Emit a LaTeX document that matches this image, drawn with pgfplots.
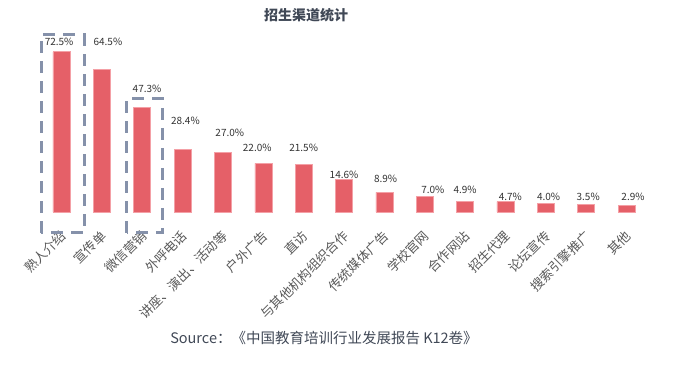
\documentclass[border=0pt]{standalone}
\usepackage{pgfplots}
\pgfplotsset{compat=1.18}
\usepackage{pgfplotstable}
\usepackage{fontspec}
\setmainfont{Noto Sans CJK SC}
\newfontfamily\cjk{Noto Sans CJK SC}
\definecolor{barred}{RGB}{229,96,104}
\definecolor{baredge}{RGB}{244,160,166}
\definecolor{boxgray}{RGB}{133,145,170}
\definecolor{titlecol}{RGB}{64,72,86}
\definecolor{labcol}{RGB}{89,89,89}
\definecolor{valcol}{RGB}{51,51,51}
\pgfplotstableread{
x y
0 72.5
1 64.5
2 47.3
3 28.4
4 27.0
5 22.0
6 21.5
7 14.6
8 8.9
9 7.0
10 4.9
11 4.7
12 4.0
13 3.5
14 2.9
}\bars
\pgfplotstableread{
x y lab
-0.06 76.9 72.5\%
1.15 76.9 64.5\%
2.12 55.7 47.3\%
3.07 41.2 28.4\%
4.17 35.7 27.0\%
4.85 29.0 22.0\%
6.0 29.0 21.5\%
7.0 16.7 14.6\%
8.03 14.9 8.9\%
9.2 10.0 7.0\%
10.0 10.0 4.9\%
11.12 6.8 4.7\%
12.07 6.8 4.0\%
13.05 6.8 3.5\%
14.16 6.8 2.9\%
}\labs
\begin{document}
\begin{tikzpicture}
\begin{axis}[
  x=40.36bp, y=2.21bp,
  xmin=-0.5, xmax=14.5, ymin=0, ymax=80,
  axis line style={draw=none},
  ytick=\empty,
  xtick=data,
  major tick length=0pt,
  xticklabels={熟人介绍,宣传单,微信营销,外呼电话,{讲座、演出、活动等},户外广告,直访,与其他机构组织合作,传统媒体广告,学校官网,合作网站,招生代理,论坛宣传,搜索引擎推广,其他},
  x tick label style={xshift=2bp, yshift=-21.5bp, rotate=45, anchor=east, font=\fontsize{13bp}{15bp}\selectfont, text=labcol, inner sep=0pt},
  clip=false,
]
\addplot[ybar, bar width=17bp, fill=barred, draw=baredge, line width=0.6bp] table[x=x,y=y] {\bars};
\addplot[only marks, mark=none, nodes near coords, point meta=explicit symbolic,
  nodes near coords align={center},
  every node near coord/.style={font=\fontsize{10bp}{12bp}\selectfont, text=valcol, inner sep=0pt}]
  table[x=x,y=y,meta=lab] {\labs};
\draw[boxgray, line width=3bp, dash pattern=on 12bp off 8bp] (axis cs:-0.5,-9.5) rectangle (axis cs:0.56,80.1);
\draw[boxgray, line width=3bp, dash pattern=on 12bp off 8bp] (axis cs:1.62,-9.5) rectangle (axis cs:2.51,51.4);
\coordinate (O) at (axis cs:0,0);
\end{axis}
\node[font=\fontsize{14bp}{16bp}\selectfont\bfseries, text=titlecol] at ([shift={(244.5bp,197bp)}]O) {招生渠道统计};
\node[font=\fontsize{14.5bp}{18bp}\selectfont, text=titlecol] at ([shift={(262.5bp,-126bp)}]O) {Source：《中国教育培训行业发展报告 K12卷》};
\pgfresetboundingbox
\path[use as bounding box] ([shift={(-61.5bp,-169bp)}]O) rectangle ([shift={(614.5bp,212bp)}]O);
\end{tikzpicture}
\end{document}
